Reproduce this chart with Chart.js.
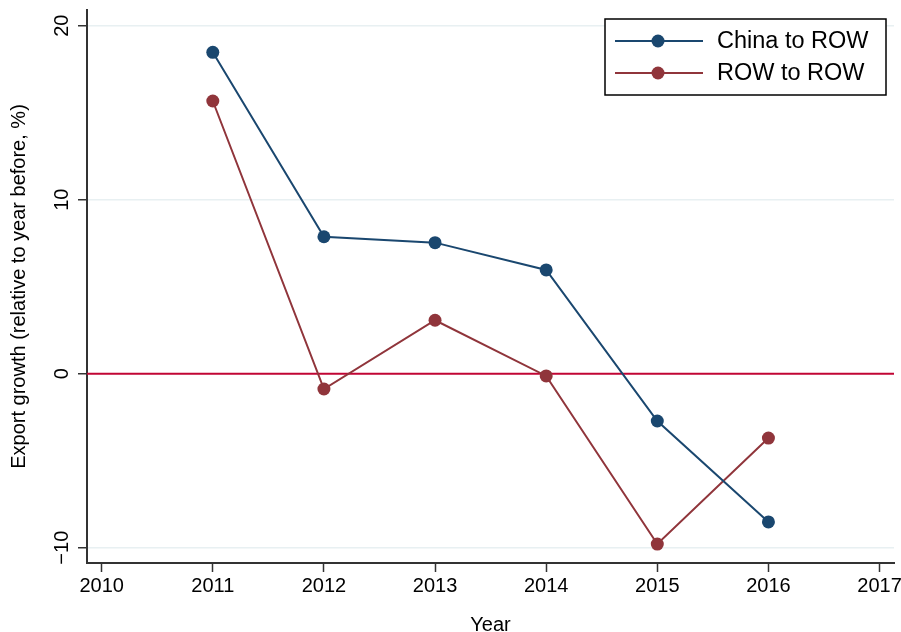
<!DOCTYPE html>
<html>
<head>
<meta charset="utf-8">
<script src="https://cdn.jsdelivr.net/npm/chart.js@4"></script>
<style>
  html, body { margin: 0; padding: 0; background: #fff; }
  #wrap { width: 901px; height: 632px; }
</style>
</head>
<body>
<div id="wrap"><canvas id="grafico" width="901" height="632"></canvas></div>
<script>
// Datos
const anios = [2011, 2012, 2013, 2014, 2015, 2016];
const chinaROW = [18.47, 7.87, 7.53, 5.96, -2.72, -8.52];
const rowROW = [15.67, -0.88, 3.07, -0.13, -9.79, -3.7];
const ticksX = [2010, 2011, 2012, 2013, 2014, 2015, 2016, 2017];
const ticksY = [-10, 0, 10, 20];
const etiquetas = ["China to ROW", "ROW to ROW"];

const FUENTE = "'Liberation Sans', Arial, Helvetica, sans-serif";
const NAVY = "#1a476f";
const MAROON = "#90353b";
const EJE = "#333333";

const fmt = v => (v < 0 ? "\u2212" + Math.abs(v) : String(v));

// línea horizontal en cero (debajo de las series)
const lineaCero = {
  id: "lineaCero",
  beforeDatasetsDraw(chart) {
    const { ctx, chartArea } = chart;
    const y = chart.scales.y.getPixelForValue(0);
    ctx.save();
    ctx.strokeStyle = "#c10534";
    ctx.lineWidth = 2;
    ctx.beginPath();
    ctx.moveTo(chartArea.left, y);
    ctx.lineTo(chartArea.right, y);
    ctx.stroke();
    ctx.restore();
  }
};

// leyenda con recuadro estilo Stata dentro del área
const leyendaCaja = {
  id: "leyendaCaja",
  afterDraw(chart) {
    const { ctx, chartArea } = chart;
    const x0 = chartArea.right - 289, y0 = chartArea.top + 9, w = 281, h = 76;
    ctx.save();
    ctx.fillStyle = "#fff";
    ctx.fillRect(x0, y0, w, h);
    ctx.strokeStyle = "#000";
    ctx.lineWidth = 1.5;
    ctx.strokeRect(x0, y0, w, h);
    chart.data.datasets.forEach((ds, i) => {
      const yy = y0 + 22 + i * 32;
      ctx.strokeStyle = ds.borderColor;
      ctx.lineWidth = 2;
      ctx.beginPath();
      ctx.moveTo(x0 + 10, yy);
      ctx.lineTo(x0 + 98, yy);
      ctx.stroke();
      ctx.fillStyle = ds.backgroundColor;
      ctx.beginPath();
      ctx.arc(x0 + 53, yy, 6.5, 0, Math.PI * 2);
      ctx.fill();
      ctx.fillStyle = "#000";
      ctx.font = "23.5px " + FUENTE;
      ctx.textBaseline = "middle";
      ctx.textAlign = "left";
      ctx.fillText(ds.label, x0 + 112, yy + 1);
    });
    ctx.restore();
  }
};

const serie = (label, data, color) => ({
  label,
  data: anios.map((a, i) => ({ x: a, y: data[i] })),
  borderColor: color,
  backgroundColor: color,
  borderWidth: 2,
  pointRadius: 6.5,
  pointHoverRadius: 6.5,
  pointBorderWidth: 0,
  tension: 0
});

new Chart(document.getElementById("grafico").getContext("2d"), {
  type: "line",
  data: {
    datasets: [
      serie(etiquetas[0], chinaROW, NAVY),
      serie(etiquetas[1], rowROW, MAROON)
    ]
  },
  plugins: [lineaCero, leyendaCaja],
  options: {
    responsive: false,
    animation: false,
    layout: { padding: { top: 10, right: 7, left: 0, bottom: 0 } },
    plugins: { legend: { display: false }, tooltip: { enabled: false } },
    scales: {
      x: {
        type: "linear",
        min: 2009.868,
        max: 2017.13,
        afterBuildTicks: s => { s.ticks = ticksX.map(v => ({ value: v })); },
        afterFit: s => { s.height = 69; s.paddingLeft = 0; s.paddingRight = 0; },
        ticks: { font: { family: FUENTE, size: 20 }, color: "#000", padding: 2, callback: v => String(v) },
        grid: { drawOnChartArea: false, drawTicks: true, tickLength: 9, tickColor: EJE, tickWidth: 1.5 },
        border: { color: EJE, width: 2 },
        title: { display: true, text: "Year", font: { family: FUENTE, size: 20 }, color: "#000", padding: { top: 0, bottom: -5 } }
      },
      y: {
        min: -10.88,
        max: 20.9,
        afterBuildTicks: s => { s.ticks = ticksY.map(v => ({ value: v })); },
        afterFit: s => { s.width = 87; s.paddingTop = 0; s.paddingBottom = 0; },
        ticks: { font: { family: FUENTE, size: 20 }, color: "#000", padding: -1, minRotation: 90, maxRotation: 90, crossAlign: "center", callback: v => fmt(v) },
        grid: {
          color: c => (c.tick && c.tick.value === 0 ? "rgba(0,0,0,0)" : "#e8f0f2"),
          lineWidth: 1.5,
          drawTicks: true, tickLength: 9, tickColor: EJE, tickWidth: 1.5
        },
        border: { color: EJE, width: 2 },
        title: { display: true, text: "Export growth (relative to year before, %)", font: { family: FUENTE, size: 20 }, color: "#000", padding: { top: 7.5, bottom: 0 } }
      }
    }
  }
});
</script>
</body>
</html>
